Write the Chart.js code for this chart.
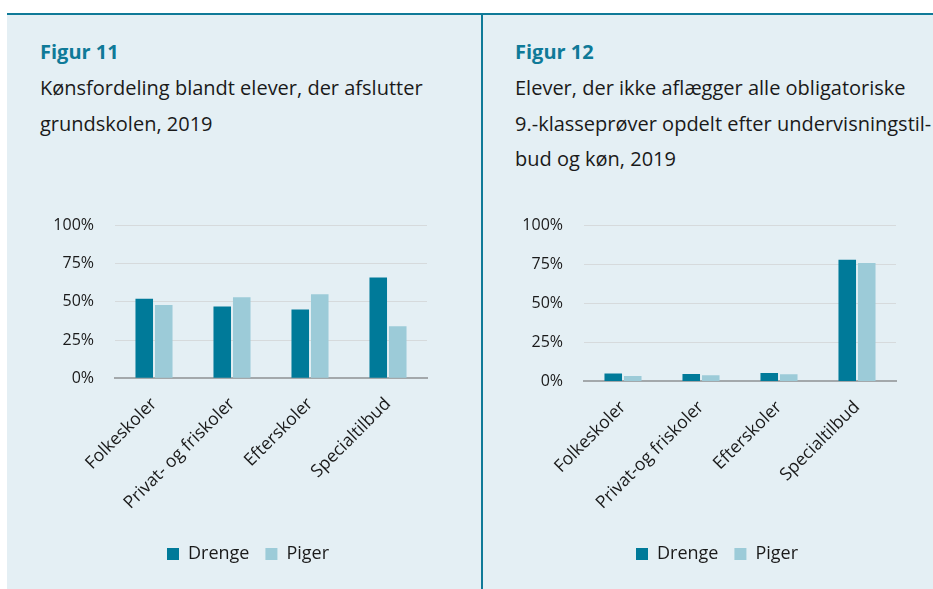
<!DOCTYPE html>
<html>
<head>
<meta charset="utf-8">
<script src="https://cdn.jsdelivr.net/npm/chart.js@4"></script>
<style>
  html, body { margin: 0; padding: 0; background: #fff; }
  body { width: 933px; height: 589px; position: relative; overflow: hidden; font-family: "Open Sans", sans-serif; }
  #bg { position: absolute; left: 7px; top: 13px; width: 926px; height: 576px; background: #e4eff4; border-top: 2px solid #0f7a98; box-sizing: border-box; }
  #divider { position: absolute; left: 481px; top: 13px; width: 2px; height: 576px; background: #0f7a98; }
  .head { position: absolute; top: 36px; color: #1a1a1a; }
  .head h2 { margin: 0 0 2px 0; font-size: 20px; font-weight: 700; color: #0f7a98; line-height: 32px; }
  .head p { margin: 0; font-size: 20px; line-height: 35.5px; }
  .box { position: absolute; }
</style>
</head>
<body>
<div id="bg"></div>
<div id="divider"></div>

<div class="head" style="left:40px; width:430px;">
  <h2>Figur 11</h2>
  <p>Kønsfordeling blandt elever, der afslutter<br>grundskolen, 2019</p>
</div>
<div class="head" style="left:515px; width:430px; white-space:nowrap;">
  <h2>Figur 12</h2>
  <p>Elever, der ikke aflægger alle obligatoriske<br>9.-klasseprøver opdelt efter undervisningstil-<br>bud og køn, 2019</p>
</div>

<div class="box" style="left:40px; top:195px; width:416px; height:392px;"><canvas id="fig11"></canvas></div>
<div class="box" style="left:509px; top:195px; width:416px; height:392px;"><canvas id="fig12"></canvas></div>

<script>
// Figur 11 - kønsfordeling (procent)
const labels11 = ['Folkeskoler', 'Privat- og friskoler', 'Efterskoler', 'Specialtilbud'];
const drenge11 = [52, 47, 45, 66];
const piger11 = [48, 53, 55, 34];

// Figur 12 - elever der ikke aflægger alle prøver (procent)
const labels12 = ['Folkeskoler', 'Privat-og friskoler', 'Efterskoler', 'Specialtilbud'];
const drenge12 = [5, 4.8, 5.4, 78];
const piger12 = [3.5, 3.9, 4.5, 76];

const yTicks = [0, 25, 50, 75, 100];

const dark = '#007a99';
const light = '#9ccbd8';
const font = "'Open Sans', sans-serif";

function makeChart(id, labels, drenge, piger) {
    const ctx = document.getElementById(id).getContext('2d');
    return new Chart(ctx, {
        type: 'bar',
        data: {
            labels: labels,
            datasets: [
                { label: 'Drenge', data: drenge, backgroundColor: dark, barPercentage: 0.9, categoryPercentage: 0.5 },
                { label: 'Piger', data: piger, backgroundColor: light, barPercentage: 0.9, categoryPercentage: 0.5 }
            ]
        },
        options: {
            responsive: true,
            maintainAspectRatio: false,
            animation: false,
            layout: { padding: { top: 8, bottom: 14 } },
            plugins: {
                tooltip: { enabled: false },
                legend: {
                    position: 'bottom',
                    labels: {
                        boxWidth: 12, boxHeight: 12, padding: 16,
                        color: '#1a1a1a',
                        font: { family: font, size: 18 }
                    }
                }
            },
            scales: {
                x: {
                    grid: { display: false, drawTicks: false },
                    border: { color: '#a3a8ab', width: 2 },
                    ticks: {
                        color: '#1a1a1a', maxRotation: 45, minRotation: 45, padding: 15.5,
                        font: { family: font, size: 17.5 }
                    }
                },
                y: {
                    min: 0, max: 100,
                    afterBuildTicks: s => { s.ticks = yTicks.map(v => ({ value: v })); },
                    afterFit: s => { s.width = 75; },
                    grid: { color: '#d6dadc', drawTicks: false },
                    border: { display: false },
                    ticks: {
                        color: '#1a1a1a', padding: 21,
                        font: { family: font, size: 16 },
                        callback: v => v + '%'
                    }
                },
                // empty right-hand spacer so the legend stays centred on the whole panel
                spacer: {
                    position: 'right',
                    grid: { display: false },
                    border: { display: false },
                    ticks: { display: false },
                    afterFit: s => { s.width = 29; }
                }
            }
        }
    });
}

makeChart('fig11', labels11, drenge11, piger11);
makeChart('fig12', labels12, drenge12, piger12);
</script>
</body>
</html>
